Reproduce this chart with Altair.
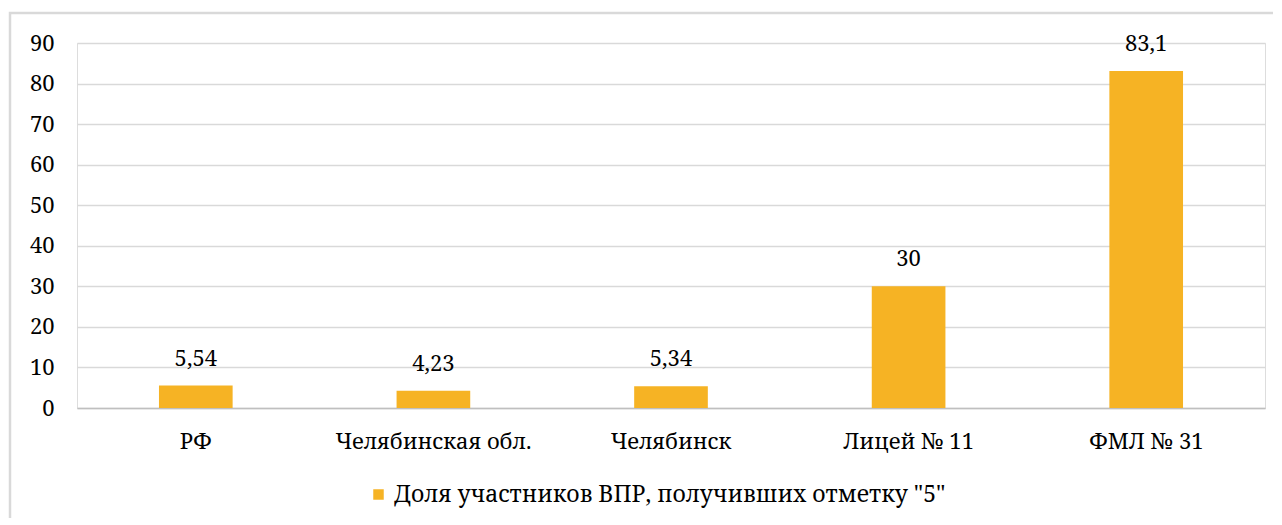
import altair as alt
import pandas as pd

categories = ["РФ", "Челябинская обл.", "Челябинск", "Лицей № 11", "ФМЛ № 31"]
values = [5.54, 4.23, 5.34, 30, 83.1]
series_name = 'Доля участников ВПР, получивших отметку "5"'
y_ticks = [0, 10, 20, 30, 40, 50, 60, 70, 80, 90]

df = pd.DataFrame({"cat": categories, "v": values, "series": [series_name] * len(categories)})

FONT = "Noto Serif"
COLOR = "#F6B324"

x_enc = alt.X("cat:N", sort=categories, title=None,
              scale=alt.Scale(paddingInner=0.69, paddingOuter=0.345),
              axis=alt.Axis(labelAngle=0, ticks=False, domainColor="#BFBFBF", domainWidth=1.5,
                            labelPadding=23, labelFontSize=22, labelFont=FONT, labelColor="#000000",
                            labelLimit=400, grid=False))
y_enc = alt.Y("v:Q", title=None,
              scale=alt.Scale(domain=[0, 90], nice=False),
              axis=alt.Axis(values=y_ticks, ticks=False, domain=False, labelPadding=23,
                            labelFontSize=22, labelFont=FONT, labelColor="#000000",
                            gridColor="#D9D9D9", gridWidth=1.5))

bars = alt.Chart(df).mark_bar(color=COLOR).encode(
    x=x_enc, y=y_enc,
    color=alt.Color("series:N", scale=alt.Scale(range=[COLOR]),
                    legend=alt.Legend(title=None, orient="none", legendX=290, legendY=440,
                                      symbolType="square", symbolSize=110, symbolStrokeWidth=0,
                                      labelFont=FONT, labelFontSize=23, labelColor="#000000",
                                      labelLimit=800, symbolOffset=0)),
)

labels = alt.Chart(df).transform_calculate(
    lab="replace(toString(datum.v), '.', ',')"
).mark_text(baseline="bottom", dy=-15, font=FONT, fontSize=22, color="#000000").encode(
    x=alt.X("cat:N", sort=categories), y="v:Q", text="lab:N"
)

border_df = pd.DataFrame({"a": [0]})
border = alt.Chart(border_df).mark_rect(fill=None, stroke="#D9D9D9", strokeWidth=2.5).encode(
    x=alt.value(-67), x2=alt.value(1400), y=alt.value(-30), y2=alt.value(700)
)

chart = alt.layer(border, bars, labels).properties(
    width=1188, height=365,
    autosize=alt.AutoSizeParams(type="none"),
    padding={"left": 69, "top": 35, "right": 8, "bottom": 110},
).configure_view(stroke=None).configure(background="#FFFFFF")

chart.save("out.html", embed_options={"renderer": "svg", "actions": False})
